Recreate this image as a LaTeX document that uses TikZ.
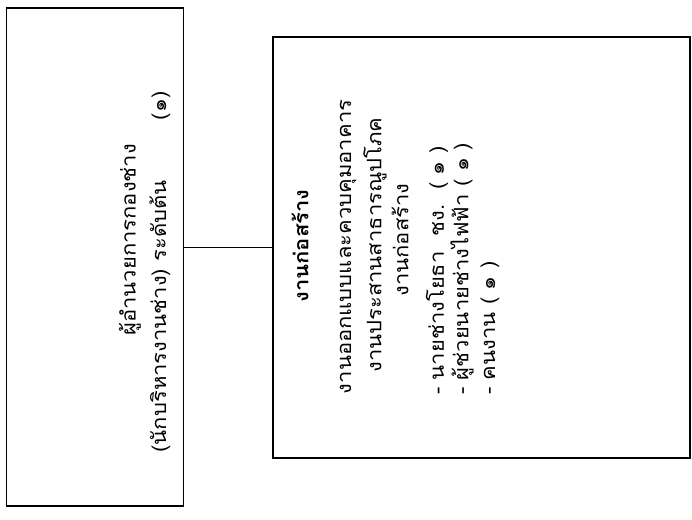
\documentclass[tikz,border=0pt]{standalone}
\usepackage{fontspec}
\newfontfamily\thaifont[Script=Thai, FakeStretch=1.1]{Loma}

\begin{document}
\begin{tikzpicture}[x=1pt, y=-1pt,
    box/.style={draw, line width=1.2pt, inner sep=0pt},
    thai text/.style={font=\thaifont\fontsize{20}{22}\selectfont, rotate=90, inner sep=0pt},
    head text/.style={thai text, font=\thaifont\bfseries\fontsize{20}{22}\selectfont},
    link/.style={line width=1.2pt}
]
\useasboundingbox (0,0) rectangle (692,519);

% Director box
\node[box, minimum width=177pt, minimum height=498pt] (chief) at (95,257) {};
\node[thai text] (chieftitle) at (130,240) {ผู้อำนวยการกองช่าง};
\node[thai text] (chieflevel) at (160,272) {(นักบริหารงานช่าง) ระดับต้น\hspace{3em}(๑)};

% Construction section box
\node[box, minimum width=417pt, minimum height=421pt] (works) at (481.5,247.5) {};
\node[head text] (workshead) at (300,246) {งานก่อสร้าง};
\node[thai text] (task1) at (348,247) {งานออกแบบและควบคุมอาคาร};
\node[thai text] (task2) at (375,245) {งานประสานสาธารณูปโภค};
\node[thai text] (task3) at (400,240) {งานก่อสร้าง};

% Staff
\node[thai text, anchor=west] (staff1) at (437,395) {- นายช่างโยธา\ \ ชง.\ \ ( ๑ )};
\node[thai text, anchor=west] (staff2) at (462,395) {- ผู้ช่วยนายช่างไฟฟ้า ( ๑ )};
\node[thai text, anchor=west] (staff3) at (490,395) {- คนงาน ( ๑ )};

% Connector
\draw[link] (works.west -| chief.east) -- (works.west);

\end{tikzpicture}
\end{document}
